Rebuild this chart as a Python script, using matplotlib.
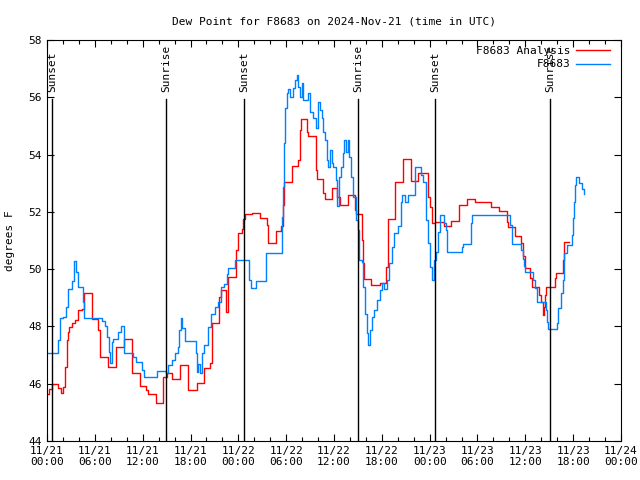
import matplotlib
matplotlib.use("Agg")
import matplotlib.pyplot as plt
from matplotlib.ticker import MultipleLocator

# hours since 2024-11-21 00:00 UTC, value starts at that time (step data)
analysis_h = [0.0, 0.25, 0.59, 1.13, 1.38, 1.76, 2.05, 2.26, 2.47, 2.63, 2.76, 3.10, 3.51, 3.85, 4.35, 4.68,
              5.61, 5.68, 6.44, 6.65, 7.62, 8.62, 9.70, 10.63, 10.70, 11.67, 12.42, 12.71, 13.64, 14.59,
              15.0, 15.72, 16.69, 17.65, 17.73, 18.78, 19.70, 20.45, 20.66, 20.74, 21.58, 21.83, 22.42,
              22.67, 22.75, 23.68, 23.93, 24.43, 24.63, 24.84, 25.68, 26.72, 27.57, 27.77, 28.73, 29.32,
              29.57, 29.74, 30.70, 31.53, 31.74, 31.83, 32.66, 32.79, 33.75, 33.84, 34.67, 34.88, 35.72,
              36.42, 36.76, 37.73, 38.64, 38.73, 39.48, 39.69, 39.81, 40.65, 41.78, 42.50, 42.75, 43.66,
              44.71, 45.67, 46.59, 47.77, 48.06, 48.27, 48.68, 49.81, 50.65, 51.73, 52.73, 53.70, 55.75,
              56.75, 57.68, 57.88, 58.72, 59.44, 59.69, 59.97, 60.60, 60.81, 61.77, 61.94, 62.19, 62.27,
              62.36, 62.48, 62.61, 63.74, 63.86, 64.71, 64.79, 64.87, 65.53]
analysis_v = [45.64, 45.8, 45.98, 45.98, 45.85, 45.66, 45.9, 46.6, 47.52, 47.8, 47.98, 48.13, 48.22, 48.57,
              48.6, 49.18, 48.57, 48.25, 47.87, 46.94, 46.59, 47.27, 47.55, 46.71, 46.36, 45.92, 45.78,
              45.64, 45.34, 46.24, 46.36, 46.15, 46.65, 46.38, 45.78, 46.01, 46.55, 46.71, 47.76, 48.13,
              49.04, 49.27, 48.5, 49.45, 49.74, 50.67, 51.25, 51.39, 51.74, 51.92, 51.95, 51.77, 51.54,
              50.92, 51.34, 51.5, 52.24, 53.05, 53.6, 53.81, 54.86, 55.23, 54.8, 54.65, 53.46, 53.14,
              52.65, 52.44, 52.82, 52.53, 52.24, 52.59, 52.06, 51.92, 51.02, 50.2, 49.64, 49.45, 49.53,
              50.09, 51.74, 53.05, 53.83, 53.09, 53.37, 52.53, 52.18, 51.6, 51.66, 51.5, 51.69, 52.24,
              52.44, 52.33, 52.16, 52.03, 51.66, 51.48, 51.16, 50.9, 50.46, 50.03, 49.7, 49.37, 49.1,
              48.86, 48.57, 48.4, 48.69, 49.1, 49.39, 49.68, 49.88, 50.32, 50.69, 50.96, 50.96]

obs_h = [0.0, 1.35, 1.63, 2.05, 2.35, 2.60, 3.17, 3.43, 3.61, 3.85, 3.93, 4.55, 4.68, 6.94, 7.28, 7.49,
         7.78, 7.90, 8.12, 8.32, 8.95, 9.28, 9.70, 10.83, 11.13, 11.96, 12.21, 13.76, 14.89, 15.22,
         15.65, 16.06, 16.40, 16.60, 16.78, 16.98, 17.32, 18.66, 18.78, 18.98, 19.20, 19.49, 19.74,
         20.24, 20.58, 21.08, 21.42, 21.83, 22.25, 22.55, 22.75, 23.59, 25.38, 25.56, 26.22, 27.47,
         29.45, 29.57, 29.74, 29.87, 30.08, 30.28, 30.49, 30.91, 31.12, 31.33, 31.53, 31.74, 31.96,
         32.16, 32.79, 33.00, 33.41, 33.75, 34.04, 34.25, 34.47, 34.67, 34.88, 35.17, 35.30, 35.51,
         35.72, 35.84, 36.26, 36.42, 36.67, 36.85, 37.10, 37.30, 37.48, 37.73, 37.89, 38.14, 38.43,
         38.73, 39.06, 39.15, 39.48, 39.69, 39.90, 40.11, 40.24, 40.53, 40.74, 41.07, 41.37, 41.78,
         42.07, 42.32, 42.62, 42.91, 43.25, 43.58, 44.08, 44.42, 44.50, 44.92, 45.26, 46.17, 46.93,
         47.21, 47.51, 47.77, 48.06, 48.27, 48.56, 48.81, 49.10, 49.31, 49.81, 50.06, 50.23, 52.03,
         52.23, 53.16, 53.28, 58.09, 58.30, 59.44, 59.69, 59.85, 59.97, 60.94, 61.23, 61.44, 61.52,
         62.61, 62.77, 62.90, 63.95, 64.15, 64.45, 64.71, 64.91, 65.21, 65.83, 65.96, 66.12, 66.25,
         66.38, 66.54, 66.79, 67.09, 67.38]
obs_v = [47.06, 47.52, 48.28, 48.34, 48.69, 49.3, 49.6, 50.29, 49.9, 49.5, 49.39, 48.86, 48.31, 48.2,
         48.01, 47.64, 47.12, 46.73, 47.47, 47.55, 47.82, 48.01, 47.06, 46.95, 46.77, 46.48, 46.22,
         46.45, 46.36, 46.65, 46.83, 47.06, 47.29, 47.87, 48.31, 47.93, 47.5, 47.06, 46.42, 46.7,
         46.36, 47.06, 47.35, 47.99, 48.45, 48.69, 48.86, 49.37, 49.48, 49.83, 50.03, 50.32, 49.62,
         49.33, 49.6, 50.58, 51.83, 52.88, 54.39, 55.62, 56.14, 56.28, 56.02, 56.31, 56.6, 56.78,
         56.37, 56.02, 56.49, 55.9, 56.14, 55.5, 55.27, 54.92, 55.85, 55.56, 55.27, 54.8, 54.51,
         53.81, 53.58, 54.16, 53.7, 53.55, 53.11, 52.2, 53.23, 53.58, 54.04, 54.51, 54.1, 54.51,
         53.93, 53.23, 52.53, 51.72, 51.37, 50.32, 50.26, 49.39, 48.45, 47.76, 47.35, 47.87, 48.34,
         48.57, 48.92, 49.27, 49.5, 49.3, 49.62, 50.2, 50.78, 51.25, 51.5, 52.36, 52.59, 52.34,
         52.59, 53.58, 53.29, 53.05, 51.72, 50.9, 50.09, 49.62, 50.32, 50.61, 51.31, 51.9, 51.62,
         51.37, 50.61, 50.78, 50.88, 51.6, 51.89, 51.54, 50.88, 50.67, 50.34, 50.11, 49.91, 49.62,
         49.33, 49.15, 48.86, 48.57, 48.17, 47.9, 48.13, 48.63, 49.15, 49.62, 50.55, 50.84, 51.19,
         51.77, 52.36, 52.94, 53.2, 53.2, 53.0, 52.79, 52.62]

sun_h = [0.63, 14.9, 24.7, 39.0, 48.7, 63.1]
sun_labels = ["Sunset", "Sunrise", "Sunset", "Sunrise", "Sunset", "Sunrise"]

xtick_h = list(range(0, 73, 6))
xtick_labels = ["11/21\n00:00", "11/21\n06:00", "11/21\n12:00", "11/21\n18:00",
                "11/22\n00:00", "11/22\n06:00", "11/22\n12:00", "11/22\n18:00",
                "11/23\n00:00", "11/23\n06:00", "11/23\n12:00", "11/23\n18:00",
                "11/24\n00:00"]
yticks = [44, 46, 48, 50, 52, 54, 56, 58]

plt.rcParams['font.family'] = ['DejaVu Sans Mono']
fig = plt.figure(figsize=(6.4, 4.8), dpi=100)
ax = fig.add_axes([47/640, 1-441/480, (621-47)/640, (441-40)/480])

ax.plot(analysis_h, analysis_v, color='#ff0000', lw=1.0, drawstyle='steps-post', label='F8683 Analysis')
ax.plot(obs_h, obs_v, color='#0080ff', lw=1.0, drawstyle='steps-post', label='F8683')

for h, lab in zip(sun_h, sun_labels):
    ax.plot([h, h], [44, 55.94], color='black', lw=1.0)
    ax.text(h, 56.18, lab, rotation=90, ha='center', va='bottom', fontsize=8)

ax.set_xlim(0, 72)
ax.set_ylim(44, 58)
ax.set_xticks(xtick_h)
ax.set_xticklabels(xtick_labels, fontsize=8)
ax.xaxis.set_minor_locator(MultipleLocator(2))
ax.set_yticks(yticks)
ax.set_yticklabels([str(v) for v in yticks], fontsize=8)
ax.tick_params(which='both', direction='in', top=True, right=True, width=0.8)
ax.tick_params(which='major', length=5)
ax.tick_params(which='minor', length=3)
for s in ax.spines.values():
    s.set_linewidth(0.8)

ax.set_ylabel('degrees F', fontsize=8, labelpad=10)
ax.set_title('Dew Point for F8683 on 2024-Nov-21 (time in UTC)', fontsize=8, pad=11)

leg = ax.legend(loc='upper right', fontsize=8, frameon=False, markerfirst=False,
                handlelength=3.0, handletextpad=0.5, borderaxespad=0.1, labelspacing=0.35,
                bbox_to_anchor=(0.99, 1.0))
for t in leg.get_texts():
    t.set_ha('right')

fig.savefig('out.png', dpi=100)
